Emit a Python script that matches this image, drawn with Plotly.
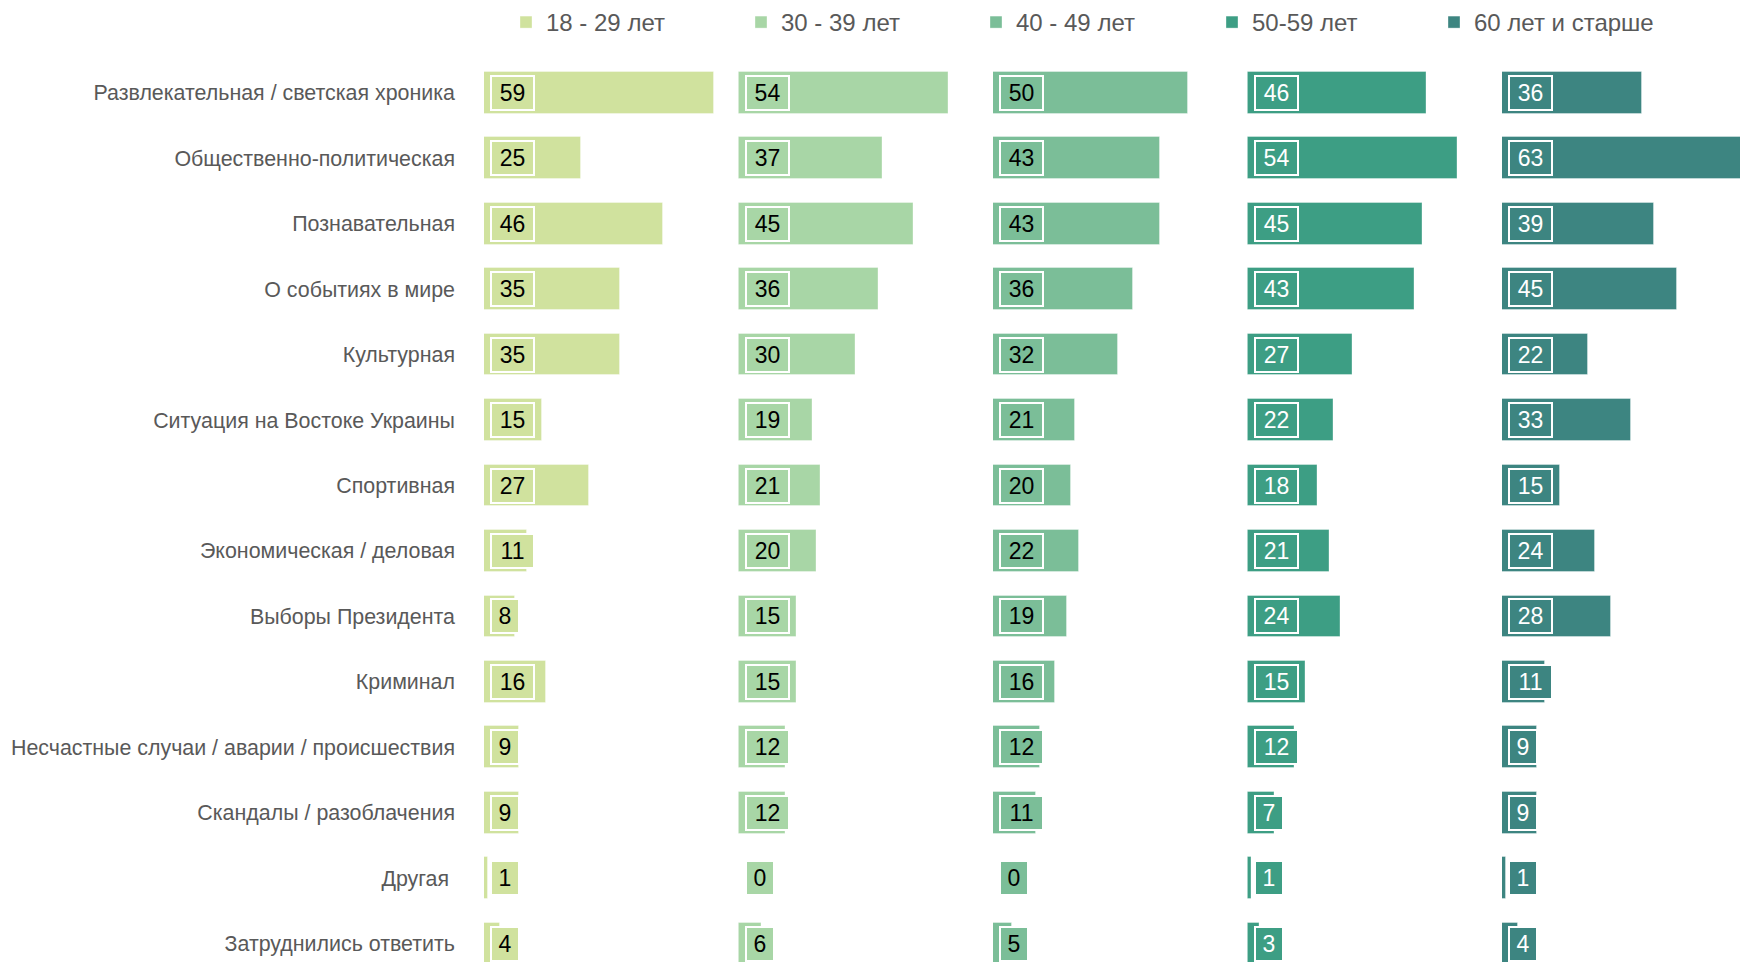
import plotly.graph_objects as go

categories = [
    "Развлекательная / светская хроника",
    "Общественно-политическая",
    "Познавательная",
    "О событиях в мире",
    "Культурная",
    "Ситуация на Востоке Украины",
    "Спортивная",
    "Экономическая / деловая",
    "Выборы Президента",
    "Криминал",
    "Несчастные случаи / аварии / происшествия",
    "Скандалы / разоблачения",
    "Другая ",
    "Затруднились ответить",
]

groups = ["18 - 29 лет", "30 - 39 лет", "40 - 49 лет", "50-59 лет", "60 лет и старше"]

age_18_29 = [59, 25, 46, 35, 35, 15, 27, 11, 8, 16, 9, 9, 1, 4]
age_30_39 = [54, 37, 45, 36, 30, 19, 21, 20, 15, 15, 12, 12, 0, 6]
age_40_49 = [50, 43, 43, 36, 32, 21, 20, 22, 19, 16, 12, 11, 0, 5]
age_50_59 = [46, 54, 45, 43, 27, 22, 18, 21, 24, 15, 12, 7, 1, 3]
age_60_plus = [36, 63, 39, 45, 22, 33, 15, 24, 28, 11, 9, 9, 1, 4]

series = [age_18_29, age_30_39, age_40_49, age_50_59, age_60_plus]
colors = ["#d0e29e", "#a8d6a6", "#7bbe98", "#3d9e84", "#3d8581"]
label_colors = ["#000000", "#000000", "#000000", "#ffffff", "#ffffff"]

# ---- layout geometry (pixels) ----
W, H = 1740, 962
LEFT = 484
PLOT_W = W - LEFT
PX_PER_UNIT = 3.894
COL_STEP = 254.5
COL_RANGE = 65.0
ROW_TOP = 91.7
ROW_STEP = 65.55
LEGEND_X_PX = [506, 741, 976, 1212, 1434]
FONT = "Liberation Sans, Arial, sans-serif"

fig = go.Figure()
annotations = []
layout_extra = {}

for k, (name, vals, col, lcol) in enumerate(zip(groups, series, colors, label_colors)):
    axname = "x" if k == 0 else f"x{k+1}"
    layname = "xaxis" if k == 0 else f"xaxis{k+1}"
    legname = "legend" if k == 0 else f"legend{k+1}"
    start_px = COL_STEP * k
    end_px = min(start_px + COL_RANGE * PX_PER_UNIT, PLOT_W)
    rng = (end_px - start_px) / PX_PER_UNIT
    layout_extra[layname] = dict(
        domain=[start_px / PLOT_W, end_px / PLOT_W],
        range=[0, rng],
        visible=False,
        fixedrange=True,
        anchor="y",
    )
    layout_extra[legname] = dict(
        orientation="h",
        x=(LEGEND_X_PX[k] - LEFT) / PLOT_W, xanchor="left",
        y=1 - 22 / H, yanchor="middle",
        font=dict(size=24, color="#595959", family=FONT),
        itemclick=False, itemdoubleclick=False,
        bgcolor="rgba(0,0,0,0)",
    )
    fig.add_trace(go.Bar(
        x=vals, y=categories, orientation="h", name=name,
        marker=dict(color=col, line=dict(width=1, color="rgba(255,255,255,0.35)")),
        width=0.64, xaxis=axname, yaxis="y",
        legend=legname,
        hoverinfo="x+y",
    ))
    for cat, v in zip(categories, vals):
        txt = str(v)
        annotations.append(dict(
            x=0, y=cat, xref=axname, yref="y",
            text=txt, showarrow=False,
            xanchor="left", yanchor="middle", xshift=6,
            bgcolor=col, bordercolor="white", borderwidth=2, borderpad=2,
            width=22 if len(txt) == 1 else 37, height=28,
            align="center",
            font=dict(size=23, color=lcol, family=FONT),
        ))

y_top = -ROW_TOP / ROW_STEP
y_bottom = y_top + H / ROW_STEP

fig.update_layout(
    width=W, height=H,
    margin=dict(l=LEFT, r=0, t=0, b=0),
    paper_bgcolor="white", plot_bgcolor="white",
    font=dict(family=FONT, color="#595959"),
    barmode="group",
    bargap=0,
    yaxis=dict(
        type="category",
        categoryorder="array", categoryarray=categories,
        range=[y_bottom, y_top],
        showgrid=False, zeroline=False, showline=False,
        ticks="", ticklabelstandoff=28,
        tickfont=dict(size=21.4, color="#595959", family=FONT),
        fixedrange=True,
    ),
    showlegend=True,
    annotations=annotations,
    **layout_extra,
)

fig.write_html(
    "out.html",
    config={"displayModeBar": False},
    post_script="document.body.style.margin='0';document.body.style.overflow='hidden';",
)
